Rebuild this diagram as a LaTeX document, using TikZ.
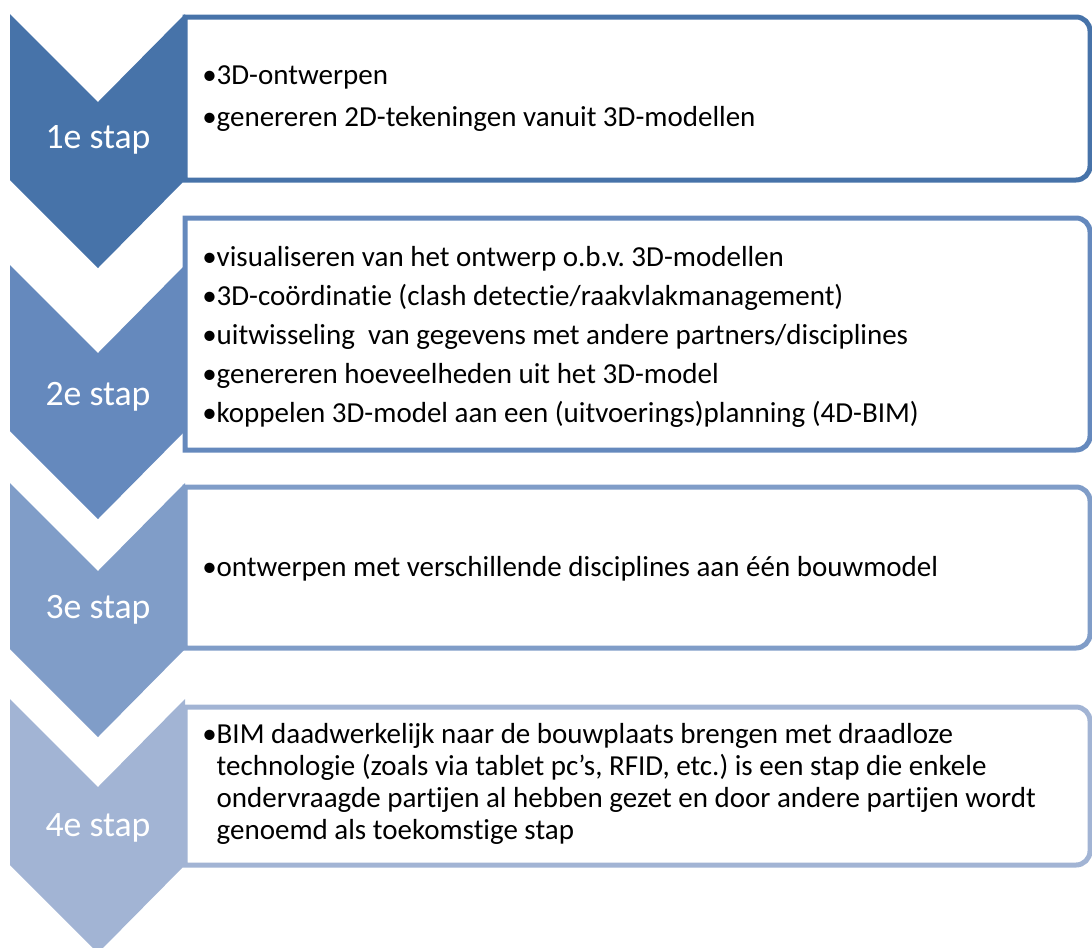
\documentclass[tikz,border=0pt]{standalone}
\usepackage{fontspec}
\setmainfont{Carlito}[Ligatures=NoCommon]
\frenchspacing
\usepackage{xcolor}
\usepackage{tikz}
\definecolor{stapone}{RGB}{71,115,169}
\definecolor{staptwo}{RGB}{101,137,189}
\definecolor{stapthree}{RGB}{128,157,200}
\definecolor{stapfour}{RGB}{162,180,212}

\begin{document}
\begin{tikzpicture}[x=0.75pt,y=-0.75pt,
stepbox/.style={draw=#1,line width=3.75pt,fill=white},
steplabel/.style={text=white,font=\fontsize{26.8}{30}\selectfont},
steptext/.style={anchor=west,align=left,inner sep=0pt}]
\useasboundingbox (0,0) rectangle (1092,947);
\foreach \ct/\bt/\bb/\col in {14/17/180/stapone,265/218/450/staptwo,483/487/648/stapthree,699/707/865/stapfour}{
\draw[stepbox=\col](185,\bt)--(1076,\bt)arc[start angle=-90,end angle=0,radius=14]
--(1090,\bb-14)arc[start angle=0,end angle=90,radius=14]--(185,\bb)--cycle;
\fill[\col](10,\ct)--(98,\ct+88)--(185,\ct)--(185,\ct+166)--(98,\ct+254)--(10,\ct+166)--cycle;
}
\node[steplabel](s1)at(98,140){1e stap};
\node[steplabel](s2)at(98,397){2e stap};
\node[steplabel](s3)at(98,610){3e stap};
\node[steplabel](s4)at(98,828){4e stap};
\node[steptext,font=\fontsize{21.75}{31.5}\selectfont](t1)at(202,99){•3D-ontwerpen\\
•genereren 2D-tekeningen vanuit 3D-modellen};
\node[steptext,font=\fontsize{21.75}{29.25}\selectfont](t2)at(202,337){•visualiseren van het ontwerp o.b.v. 3D-modellen\\
•3D-coördinatie (clash detectie/raakvlakmanagement)\\
•uitwisseling\ \ van gegevens met andere partners/disciplines\\
•genereren hoeveelheden uit het 3D-model\\
•koppelen 3D-model aan een (uitvoerings)planning (4D-BIM)};
\node[steptext,font=\fontsize{21.75}{24}\selectfont](t3)at(202,569){•ontwerpen met verschillende disciplines aan één bouwmodel};
\node[steptext,font=\fontsize{21.75}{24}\selectfont](t4)at(202,784){•BIM daadwerkelijk naar de bouwplaats brengen met draadloze\\
\phantom{•}technologie (zoals via tablet pc’s, RFID, etc.) is een stap die enkele\\
\phantom{•}ondervraagde partijen al hebben gezet en door andere partijen wordt\\
\phantom{•}genoemd als toekomstige stap};
\end{tikzpicture}
\end{document}
